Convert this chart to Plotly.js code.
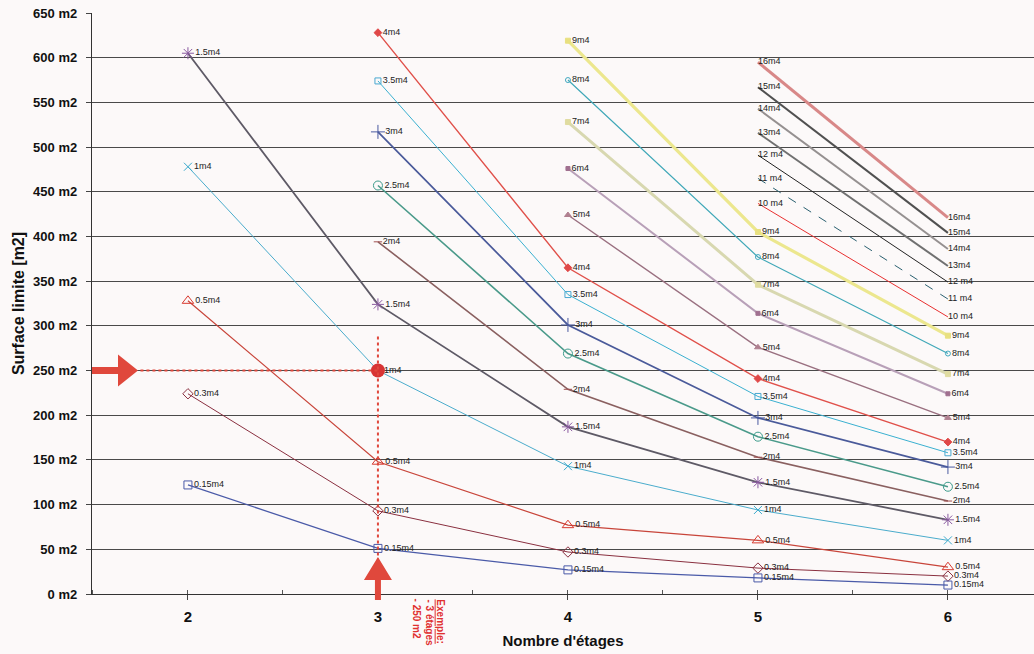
<!DOCTYPE html>
<html>
<head>
<meta charset="utf-8">
<script src="https://cdn.plot.ly/plotly-3.0.1.min.js"></script>
<style>
  html, body { margin: 0; padding: 0; background: #fcf9f9; }
  #chart { width: 1034px; height: 654px; }
</style>
</head>
<body>
<div id="chart"></div>
<script>
// ---- Data ----
const floors = [2, 3, 4, 5, 6];

const v015 = [122, 51, 27, 18, 10];
const v03  = [224, 93, 47, 29, 20];
const v05  = [328, 148, 77, 60, 30];
const v1   = [478, 250, 143, 94, 60];
const v15  = [605, 324, 187, 125, 83];
const v2   = [null, 394, 229, 153, 104];
const v25  = [null, 457, 269, 176, 120];
const v3   = [null, 517, 301, 197, 142];
const v35  = [null, 574, 335, 221, 158];
const v4   = [null, 628, 365, 241, 170];
const v5   = [null, null, 424, 276, 197];
const v6   = [null, null, 476, 314, 224];
const v7   = [null, null, 528, 346, 246];
const v8   = [null, null, 575, 377, 269];
const v9   = [null, null, 619, 405, 289];
const v10  = [null, null, null, 437, 310];
const v11  = [null, null, null, 465, 330];
const v12  = [null, null, null, 491, 349];
const v13  = [null, null, null, 516, 367];
const v14  = [null, null, null, 543, 386];
const v15m = [null, null, null, 567, 404];
const v16  = [null, null, null, 595, 421];

const seriesLabels = ["0.15m4","0.3m4","0.5m4","1m4","1.5m4","2m4","2.5m4","3m4","3.5m4","4m4",
                      "5m4","6m4","7m4","8m4","9m4","10 m4","11 m4","12 m4","13m4","14m4","15m4","16m4"];
const seriesValues = [v015, v03, v05, v1, v15, v2, v25, v3, v35, v4,
                      v5, v6, v7, v8, v9, v10, v11, v12, v13, v14, v15m, v16];

const yTicks = [0,50,100,150,200,250,300,350,400,450,500,550,600,650];

// Example reading
const exampleFloors = [3];
const exampleArea = [250];
const exampleText = ["Exemple:", "- 3 étages", "- 250 m2"];

// ---- Styles ----
const styles = [
  {c:"#4a5aa8", w:1.3, d:"solid", s:"square-open",      ms:8,  mc:"#4a5aa8"},
  {c:"#8a3040", w:1.0, d:"solid", s:"diamond-open",     ms:8,  mc:"#8a3040"},
  {c:"#c8453a", w:1.2, d:"solid", s:"triangle-up-open", ms:10, mc:"#d83a30"},
  {c:"#4aaccc", w:1.0, d:"solid", s:"x-thin-open",      ms:8,  mc:"#3aaacc"},
  {c:"#5e5a66", w:1.8, d:"solid", s:"asterisk-open",    ms:10, mc:"#8a5aa0"},
  {c:"#8a6060", w:1.6, d:"solid", s:"line-ew-open",     ms:6,  mc:"#a05050"},
  {c:"#4a9a8a", w:1.6, d:"solid", s:"circle-open",      ms:9,  mc:"#3a9a8a"},
  {c:"#4a5a9a", w:1.7, d:"solid", s:"cross-thin-open",  ms:10, mc:"#4a5aa0"},
  {c:"#3ab0d0", w:1.0, d:"solid", s:"square-open",      ms:6,  mc:"#4aa8d0"},
  {c:"#e0504a", w:1.4, d:"solid", s:"diamond",          ms:6,  mc:"#e04848"},
  {c:"#9a7080", w:1.4, d:"solid", s:"triangle-up",      ms:6,  mc:"#b08090"},
  {c:"#b8a0b8", w:2.0, d:"solid", s:"square",           ms:4,  mc:"#a07090"},
  {c:"#d8d8b0", w:3.0, d:"solid", s:"square",           ms:5,  mc:"#e0dca0"},
  {c:"#40a8b8", w:1.2, d:"solid", s:"circle-open",      ms:5,  mc:"#40a8c0"},
  {c:"#ece78e", w:3.2, d:"solid", s:"square",           ms:5,  mc:"#e8e080"},
  {c:"#e83030", w:1.0, d:"solid", s:null},
  {c:"#2a6070", w:1.0, d:"dash",  s:null},
  {c:"#222222", w:1.0, d:"solid", s:null},
  {c:"#707070", w:2.0, d:"solid", s:null},
  {c:"#959090", w:2.0, d:"solid", s:null},
  {c:"#505050", w:2.0, d:"solid", s:null},
  {c:"#d88888", w:3.0, d:"solid", s:null}
];

const traces = [];
for (let i = seriesValues.length - 1; i >= 0; i--) {
  const vals = seriesValues[i];
  const st = styles[i];
  const tr = {
    type: "scatter",
    mode: st.s ? "lines+markers+text" : "lines+text",
    x: floors,
    y: vals,
    text: vals.map(v => v == null ? "" : seriesLabels[i]),
    textposition: "middle right",
    textfont: {family: "Liberation Sans, Arial, sans-serif", size: 9, color: "#222"},
    line: {color: st.c, width: st.w, dash: st.d},
    cliponaxis: false,
    hoverinfo: "skip",
    showlegend: false
  };
  if (st.s) tr.marker = {symbol: st.s, size: st.ms, color: st.mc, line: {color: st.mc, width: 1}};
  traces.push(tr);
}

// example point
traces.push({
  type: "scatter",
  mode: "markers",
  x: exampleFloors,
  y: exampleArea,
  marker: {symbol: "circle", size: 14, color: "#d83434"},
  hoverinfo: "skip",
  showlegend: false
});

const xRange = [1.495, 6.453];
const red = "#e0483c";

const shapes = [
  // horizontal dotted guide
  {type: "line", xref: "x", yref: "y", x0: 1.75, x1: exampleFloors[0], y0: exampleArea[0], y1: exampleArea[0],
   line: {color: red, width: 2, dash: "dot"}, layer: "above"},
  // vertical dotted guide
  {type: "line", xref: "x", yref: "y", x0: exampleFloors[0], x1: exampleFloors[0], y0: 288, y1: 0,
   line: {color: red, width: 2, dash: "dot"}, layer: "above"},
  // horizontal arrow (pixel-sized, anchored at left edge and example area)
  {type: "path", xref: "x", yref: "y", xsizemode: "pixel", ysizemode: "pixel",
   xanchor: xRange[0], yanchor: exampleArea[0],
   path: "M0,3.5 L26,3.5 L26,16 L46,0 L26,-16 L26,-3.5 L0,-3.5 Z",
   fillcolor: red, line: {width: 0}, layer: "above"},
  // vertical arrow (pixel-sized, anchored at example floors and axis bottom)
  {type: "path", xref: "x", yref: "paper", xsizemode: "pixel", ysizemode: "pixel",
   xanchor: exampleFloors[0], yanchor: 0,
   path: "M-3,-6 L-3,14 L-14,14 L0,37 L14,14 L3,14 L3,-6 Z",
   fillcolor: red, line: {width: 0}, layer: "above"}
];

const annotations = exampleText.map((t, k) => ({
  xref: "x", yref: "paper",
  x: exampleFloors[0] + 0.33 - k * 0.061,
  y: 0, yshift: -3,
  xanchor: "center", yanchor: "top",
  text: k === 0 ? "<u>" + t + "</u>" : t,
  textangle: 90,
  showarrow: false,
  font: {family: "Liberation Sans, Arial, sans-serif", size: 10, color: "#e03030", weight: "bold"}
}));

const layout = {
  width: 1034, height: 654,
  margin: {l: 92, r: 0, t: 13, b: 60, pad: 0},
  paper_bgcolor: "#fcf9f9",
  plot_bgcolor: "#fcf9f9",
  showlegend: false,
  xaxis: {
    range: xRange,
    tickvals: floors,
    ticktext: floors.map(String),
    showgrid: false,
    zeroline: false,
    showline: true,
    linecolor: "#333",
    linewidth: 1.2,
    ticks: "outside",
    ticklen: 5,
    tickcolor: "#444",
    ticklabelstandoff: 4,
    minor: {dtick: 0.5, tick0: 2, ticks: "inside", ticklen: 4, tickcolor: "#555", showgrid: false},
    tickfont: {family: "Liberation Sans, Arial, sans-serif", size: 15, color: "#111", weight: "bold"},
    title: {text: "Nombre d'étages", standoff: 11,
            font: {family: "Liberation Sans, Arial, sans-serif", size: 15, color: "#111", weight: "bold"}}
  },
  yaxis: {
    range: [0, 650],
    tickvals: yTicks,
    ticktext: yTicks.map(v => v + " m2"),
    showgrid: true,
    gridcolor: "#4a4a4a",
    gridwidth: 1,
    zeroline: false,
    showline: true,
    linecolor: "#333",
    linewidth: 1.2,
    ticks: "outside",
    ticklen: 5,
    tickcolor: "#444",
    ticklabelstandoff: 6,
    tickfont: {family: "Liberation Sans, Arial, sans-serif", size: 13, color: "#111", weight: "bold"},
    title: {text: "Surface limite [m2]", standoff: 4,
            font: {family: "Liberation Sans, Arial, sans-serif", size: 16, color: "#111", weight: "bold"}}
  },
  shapes: shapes,
  annotations: annotations
};

Plotly.newPlot("chart", traces, layout, {staticPlot: true, displayModeBar: false});
</script>
</body>
</html>
